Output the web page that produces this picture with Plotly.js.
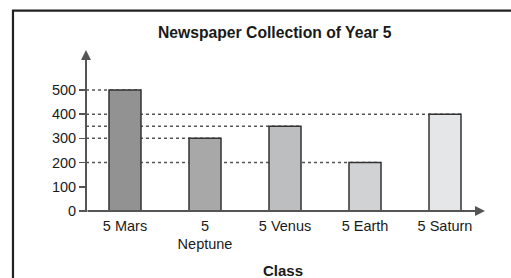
<!DOCTYPE html>
<html><head><meta charset="utf-8">
<script src="https://cdn.plot.ly/plotly-3.0.1.min.js"></script>
<style>html,body{margin:0;padding:0;background:#fff;}#chart{width:511px;height:278px;}</style>
</head><body><div id="chart"></div>
<script>
const categories = ["5 Mars", "5<br>Neptune", "5 Venus", "5 Earth", "5 Saturn"];
const newspapers = [500, 300, 350, 200, 400];
const barColors = ["#929292", "#a8a8a8", "#bdbebf", "#d1d2d3", "#e5e6e7"];
const yTicks = [0, 100, 200, 300, 400, 500];

const idx = categories.map((c, i) => i);
const xMin = -0.4875, xMax = 4.5, yMax = 665;
const barW = 0.4;
const FONT = "Liberation Sans, Arial, Helvetica, sans-serif";

const shapes = [];
newspapers.forEach((v, i) => {
  shapes.push({type: "line", layer: "below", xref: "x", yref: "y",
    x0: xMin, x1: i + barW / 2, y0: v, y1: v,
    line: {color: "#555", width: 1.5, dash: "dot"}});
});
shapes.push({type: "rect", xref: "paper", yref: "paper",
  x0: -0.183, x1: 1.2, y0: -0.6, y1: 1.245,
  line: {color: "#222", width: 2.2}, fillcolor: "rgba(0,0,0,0)"});

const annotations = [
  {xref: "x", yref: "y", axref: "x", ayref: "y", x: xMin, y: yMax, ax: xMin, ay: -10,
   showarrow: true, arrowhead: 2, arrowsize: 1, arrowwidth: 2, arrowcolor: "#555", text: ""},
  {xref: "x", yref: "y", axref: "x", ayref: "y", x: xMax, y: 0, ax: xMin, ay: 0,
   showarrow: true, arrowhead: 2, arrowsize: 1, arrowwidth: 2, arrowcolor: "#555", text: ""},
  {xref: "paper", yref: "paper", x: (275 - 86) / 399, y: (211 - 32) / 161, xanchor: "center", yanchor: "middle",
   text: "<b>Newspaper Collection of Year 5</b>", showarrow: false,
   font: {family: FONT, size: 15.7, color: "#1a1a1a"}},
  {xref: "paper", yref: "paper", x: (283 - 86) / 399, y: (211 - 270) / 161, xanchor: "center", yanchor: "middle",
   text: "<b>Class</b>", showarrow: false,
   font: {family: FONT, size: 15, color: "#1a1a1a"}}
];

const trace = {
  type: "bar", x: idx, y: newspapers, width: barW,
  marker: {color: barColors, line: {color: "#333", width: 1.5}},
  hoverinfo: "skip"
};

const layout = {
  width: 511, height: 278,
  margin: {l: 86, r: 26, t: 50, b: 67, pad: 0},
  paper_bgcolor: "#fff", plot_bgcolor: "#fff",
  showlegend: false,
  font: {family: FONT, size: 14.5, color: "#1a1a1a"},
  xaxis: {range: [xMin, xMax], tickvals: idx, ticktext: categories, showgrid: false,
    zeroline: false, showline: false, ticks: "", fixedrange: true, ticklabelstandoff: 4,
    tickfont: {family: FONT, size: 14.5, color: "#1a1a1a"}},
  yaxis: {range: [0, yMax], tickvals: yTicks, showgrid: false, zeroline: false, showline: false,
    ticks: "outside", ticklen: 6, tickwidth: 1.5, tickcolor: "#555", fixedrange: true,
    tickfont: {family: FONT, size: 14.5, color: "#1a1a1a"}},
  shapes: shapes,
  annotations: annotations,
  bargap: 0.6
};

Plotly.newPlot("chart", [trace], layout, {staticPlot: true, displayModeBar: false});
</script></body></html>
